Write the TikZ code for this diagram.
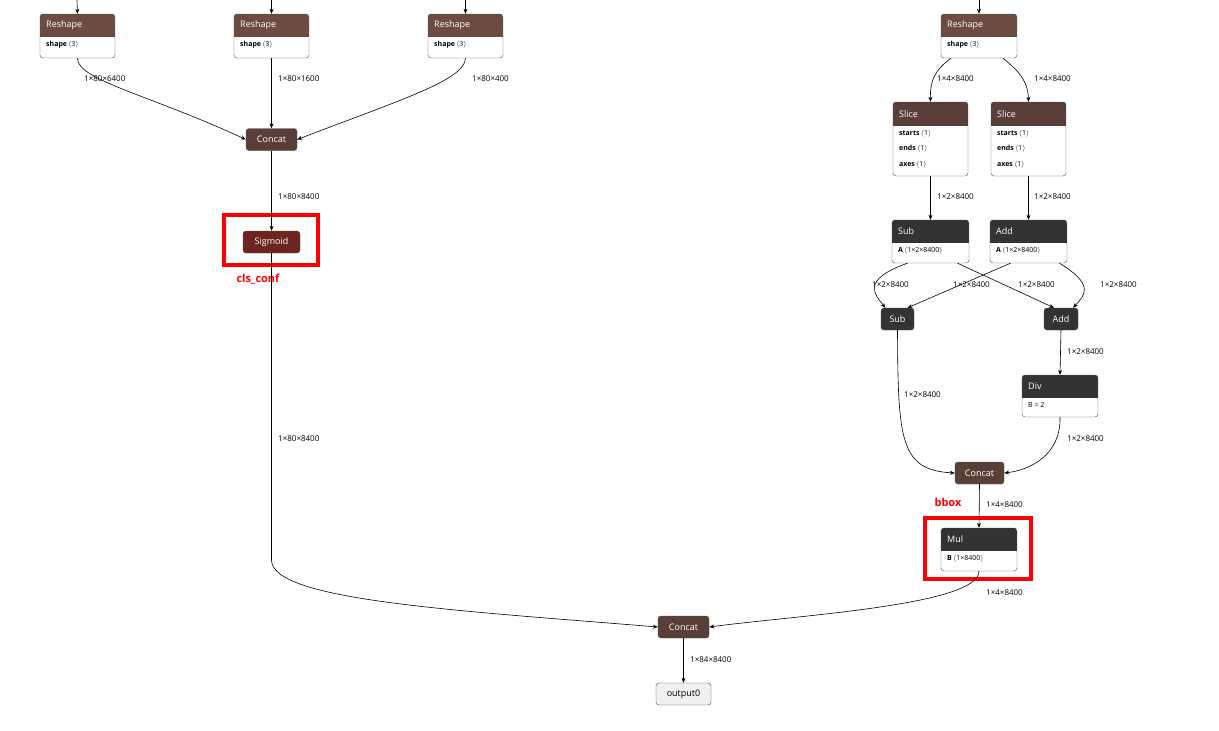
\documentclass[tikz,border=0pt]{standalone}
\usepackage{fontspec}
\setmainfont{Open Sans}
\usetikzlibrary{arrows.meta}
\definecolor{hbrown}{HTML}{6B4C42}
\definecolor{cbrown}{HTML}{5A3F38}
\definecolor{dgray}{HTML}{333333}
\definecolor{sigred}{HTML}{6E2520}
\tikzset{
  x=1pt,y=-1pt,
  edge/.style={draw=black,line width=0.6pt,-{Stealth[length=5pt,width=4pt]}},
  lbl/.style={font=\fontsize{8}{9}\selectfont,anchor=west,inner sep=0pt},
  simple/.style={rounded corners=3pt,draw=gray!60!black,text=white,font=\fontsize{9}{10}\selectfont,inner sep=0pt,minimum height=22pt},
  redbox/.style={draw=red,line width=3.5pt},
  redlbl/.style={text=red,font=\bfseries\fontsize{11}{12}\selectfont}
}
% name,left,right,top,hb,bottom,color,title,attrs
\newcommand\opnode[9]{%
  \begin{scope}
    \clip[rounded corners=3pt] (#2,#4) rectangle (#3,#6);
    \fill[white] (#2,#4) rectangle (#3,#6);
    \fill[#7] (#2,#4) rectangle (#3,#5);
  \end{scope}
  \node[draw=gray!60!black,rounded corners=3pt,inner sep=0pt,minimum width={(#3-#2)*1pt},minimum height={(#6-#4)*1pt}] (#1) at ({(#2+#3)/2},{(#4+#6)/2}) {};
  \node[anchor=west,inner sep=0pt,text=white,font=\fontsize{9}{10}\selectfont] at ({#2+6},{(#4+#5)/2}) {#8};
  \node[anchor=north west,inner sep=0pt,align=left,font=\fontsize{7}{15.5}\selectfont] at ({#2+6},{#5+4}) {#9};
}
\newcommand\at[2]{\textbf{#1}\,$\langle$#2$\rangle$}
\begin{document}
\begin{tikzpicture}
\useasboundingbox[fill=white] (0,0) rectangle (1219,731);
\opnode{r1}{40}{115}{14}{37}{58}{hbrown}{Reshape}{\at{shape}{3}}
\opnode{r2}{234}{309}{14}{37}{58}{hbrown}{Reshape}{\at{shape}{3}}
\opnode{r3}{428}{503}{14}{37}{58}{hbrown}{Reshape}{\at{shape}{3}}
\opnode{r4}{941}{1017}{14}{37}{58}{hbrown}{Reshape}{\at{shape}{3}}
\opnode{sl1}{893}{968}{102}{126}{176}{cbrown}{Slice}{\at{starts}{1}\\\at{ends}{1}\\\at{axes}{1}}
\opnode{sl2}{991}{1066}{102}{126}{176}{cbrown}{Slice}{\at{starts}{1}\\\at{ends}{1}\\\at{axes}{1}}
\opnode{sub1}{892}{969}{220}{243}{263}{dgray}{Sub}{\at{A}{1×2×8400}}
\opnode{add1}{990}{1067}{220}{243}{263}{dgray}{Add}{\at{A}{1×2×8400}}
\opnode{div}{1022}{1098}{375}{398}{417}{dgray}{Div}{B = 2}
\opnode{mul}{941}{1017}{528}{551}{571}{dgray}{Mul}{\at{B}{1×8400}}

\node[simple,fill=cbrown,minimum width=51pt] (c1) at (271.5,139.5) {Concat};
\node[simple,fill=sigred,minimum width=57pt] (sig) at (271.5,242) {Sigmoid};
\node[simple,fill=dgray,minimum width=33pt] (sub2) at (897.5,319) {Sub};
\node[simple,fill=dgray,minimum width=34pt] (add2) at (1061,319) {Add};
\node[simple,fill=cbrown,minimum width=49pt] (c2) at (979.5,473) {Concat};
\node[simple,fill=cbrown,minimum width=51pt] (c3) at (683.5,627) {Concat};
\node[simple,fill=gray!12,text=black,minimum width=55pt] (out) at (683.5,694) {output0};

\draw[redbox] (224,215) rectangle (318,265);
\node[redlbl] (cl) at (258,279) {cls\_conf};
\draw[redbox] (925,518) rectangle (1031,579);
\node[redlbl] (bb) at (948,502) {bbox};

\coordinate (t1) at (77,0); \coordinate (t2) at (271.5,0);
\coordinate (t3) at (465.5,0); \coordinate (t4) at (979,0);
\draw[edge] (t1) -- (r1.north);
\draw[edge] (t2) -- (r2.north);
\draw[edge] (t3) -- (r3.north);
\draw[edge] (t4) -- (r4.north);

\draw[edge] ([xshift=0pt]r1.south) .. controls (77,80) and (150,95) .. (c1.west);
\node[lbl] at (84,79) {1×80×6400};
\draw[edge] (r2.south) -- (c1.north);
\node[lbl] at (278,79) {1×80×1600};
\draw[edge] (r3.south) .. controls (465,80) and (400,100) .. (c1.east);
\node[lbl] at (472,79) {1×80×400};
\draw[edge] (c1.south) -- (sig.north);
\node[lbl] at (278,197) {1×80×8400};
\draw[edge] (sig.south) -- (271.5,560) .. controls (271.5,600) and (450,610) .. (c3.west);
\node[lbl] at (278,439) {1×80×8400};

\draw[edge] ([xshift=-28pt]r4.south) .. controls (935,70) and (930,80) .. (sl1.north);
\node[lbl] at (937,79) {1×4×8400};
\draw[edge] ([xshift=24pt]r4.south) .. controls (1020,72) and (1028,82) .. (sl2.north);
\node[lbl] at (1034,79) {1×4×8400};
\draw[edge] (sl1.south) -- (sub1.north);
\node[lbl] at (937,197) {1×2×8400};
\draw[edge] (sl2.south) -- (add1.north);
\node[lbl] at (1034,197) {1×2×8400};

\draw[edge] ([xshift=-23pt]sub1.south) .. controls (860,280) and (875,295) .. ([xshift=-12pt]sub2.north);
\node[lbl] at (872,285) {1×2×8400};
\draw[edge] ([xshift=27pt]sub1.south) -- ([xshift=-7pt]add2.north);
\node[lbl] at (1018,285) {1×2×8400};
\draw[edge] ([xshift=-18pt]add1.south) -- ([xshift=10pt]sub2.north);
\node[lbl] at (953,285) {1×2×8400};
\draw[edge] ([xshift=31pt]add1.south) .. controls (1095,285) and (1085,295) .. ([xshift=12pt]add2.north);
\node[lbl] at (1100,285) {1×2×8400};

\draw[edge] (sub2.south) .. controls (898,440) and (900,470) .. (c2.west);
\node[lbl] at (904,395) {1×2×8400};
\draw[edge] (add2.south) -- (div.north);
\node[lbl] at (1067,352) {1×2×8400};
\draw[edge] (div.south) .. controls (1061,455) and (1030,470) .. (c2.east);
\node[lbl] at (1067,439) {1×2×8400};
\draw[edge] (c2.south) -- (mul.north);
\node[lbl] at (986,505) {1×4×8400};
\draw[edge] (mul.south) .. controls (979,605) and (800,615) .. (c3.east);
\node[lbl] at (986,593) {1×4×8400};
\draw[edge] (c3.south) -- (out.north);
\node[lbl] at (690,660) {1×84×8400};
\end{tikzpicture}
\end{document}
